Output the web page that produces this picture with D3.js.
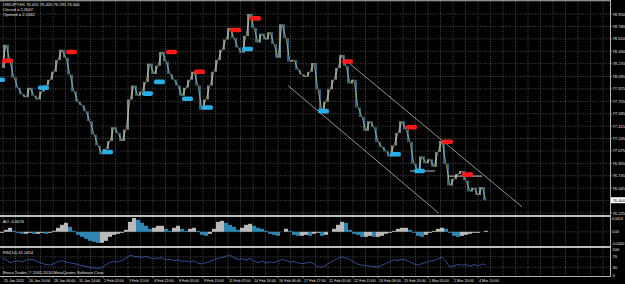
<!DOCTYPE html>
<html><head><meta charset="utf-8">
<script src="https://cdn.jsdelivr.net/npm/d3@7"></script>
<style>
html,body{margin:0;padding:0;background:#000;}
svg{display:block;}
text{font-family:"Liberation Sans",Arial,sans-serif;fill:#e4e4e4;font-size:4.1px;}
</style></head><body>
<svg width="625" height="284"></svg>
<script>
// time axis labels
var timeLabels = ["25 Jan 2011","26 Jan 10:00","28 Jan 06:00","31 Jan 14:00","2 Feb 02:00","3 Feb 12:00",
  "4 Feb 22:00","8 Feb 05:00","9 Feb 15:00","11 Feb 07:00","14 Feb 16:00","16 Feb 06:00","17 Feb 17:00",
  "21 Feb 05:00","22 Feb 11:00","24 Feb 09:00","25 Feb 20:00","1 Mar 05:00","2 Mar 20:00","4 Mar 10:00"];
var priceTicks = [78.950,78.780,78.610,78.440,78.270,78.095,77.925,77.755,77.585,77.415,77.245,77.075,76.905,76.735,76.565,76.395,76.225];
var lastPrice = 76.400;

// closes, one every few hours
var closes = [
  78.21,78.53,78.30,78.08,77.94,77.85,77.81,77.94,77.83,77.78,
  77.89,77.97,78.05,78.16,78.32,78.46,78.35,78.12,77.89,77.75,
  77.70,77.62,77.48,77.30,77.15,77.03,77.10,77.21,77.40,77.32,
  77.21,77.37,77.78,77.97,77.83,77.89,78.02,78.27,78.13,78.24,
  78.43,78.30,78.13,78.05,77.97,77.83,77.94,78.05,78.16,77.97,
  77.64,77.78,77.97,78.16,78.32,78.46,78.60,78.76,78.62,78.49,
  78.42,78.65,78.95,78.76,78.56,78.68,78.60,78.70,78.54,78.35,
  78.81,78.62,78.30,78.32,78.19,78.12,78.09,78.16,78.28,77.92,
  77.62,77.75,77.92,78.05,78.21,78.39,78.24,78.00,78.05,77.67,
  77.54,77.35,77.48,77.40,77.20,77.13,77.07,77.00,77.15,77.32,
  77.48,77.37,77.20,76.90,76.79,77.00,76.91,76.96,76.86,77.06,
  77.21,76.90,76.60,76.69,76.76,76.80,76.67,76.52,76.57,76.47,
  76.58,76.40];

// resistance (red) and support (blue) labels: bar index, price
var redIdx = [0,16,41,48,57,62,85,101,110,115];
var redPrice = [78.31,78.43,78.43,78.16,78.73,78.89,78.30,77.40,77.20,76.75];
var blueIdx = [-2,9,25,35,38,45,50,60,79,97,103];
var bluePrice = [78.05,77.94,77.06,77.86,78.02,77.79,77.67,78.47,77.62,77.03,76.80];

// channel lines and short level lines
var channelUpper = [[86.25,78.30],[130,76.31]];
var channelLower = [[71.5,77.97],[109.25,76.22]];
var levelFrom = [102,111.5], levelTo = [108.25,120], levelPrice = [76.80,76.73];

// AO histogram, in 1e-4
var aoVals = [
  -30,60,120,30,-30,-60,-60,-30,-60,-60,
  -30,-60,-30,30,120,210,270,150,30,-90,
  -150,-210,-270,-300,-330,-330,-270,-150,-90,-60,
  -30,60,300,414,360,270,180,90,120,180,
  180,90,30,120,180,90,30,90,120,30,
  -90,-120,-60,90,300,330,270,210,150,60,
  120,210,240,180,120,90,30,-60,-90,-120,
  0,90,30,-90,-120,-120,-90,-120,-60,-30,
  -120,-90,0,90,210,300,270,60,-60,-90,
  -150,-150,-120,-150,-150,-120,-60,-30,30,90,
  120,120,60,-30,-120,-150,-90,-30,30,90,
  120,90,-30,-120,-150,-120,-90,-60,-30,-30,
  0,30];

var rsiVals = [
  64,60,47,52,55,50,57,60,58,50,
  45,40,38,44,52,55,50,46,44,40,
  36,33,30,27,26,28,40,48,52,50,
  56,64,76,72,70,68,72,66,62,65,
  66,58,60,56,58,52,54,50,54,46,
  42,48,52,58,64,68,72,77,66,60,
  62,58,64,52,48,54,46,50,48,54,
  60,56,50,52,46,44,46,50,42,32,
  30,38,48,56,64,70,66,60,50,42,
  38,36,34,32,31,38,44,52,58,56,
  60,57,50,42,38,44,48,54,56,62,
  68,52,30,36,40,38,40,34,40,36,
  42,41];

var svg = d3.select("svg");
var right = 610;

var x = d3.scaleLinear().domain([0, closes.length-1]).range([2, 486]);
var xt = d3.scalePoint().domain(timeLabels).range([3, 3+25*(timeLabels.length-1)]);
var y = d3.scaleLinear().domain([76.225, 78.95]).range([213, 14]);
var yao = d3.scaleLinear().domain([-440, 414]).range([246.5, 218]);
var yrsi = d3.scaleLinear().domain([0, 100]).range([275, 249]);

svg.append("rect").attr("width",625).attr("height",284).attr("fill","#000");

// grid
var grid = svg.append("g").attr("stroke","#5e5e5e").attr("stroke-width",0.7).attr("stroke-dasharray","1.2,1.3");
var panels = [[1,215],[217,246],[248,276]];
var vx = d3.range(0, 49).map(function(k){ return xt.range()[0] + 12.5*k; });
panels.forEach(function(p){
  grid.selectAll(null).data(vx).enter().append("line")
    .attr("x1",function(d){return d;}).attr("x2",function(d){return d;})
    .attr("y1",p[0]).attr("y2",p[1]);
});
grid.selectAll(null).data(priceTicks).enter().append("line")
  .attr("x1",0).attr("x2",right).attr("y1",function(d){return y(d);}).attr("y2",function(d){return y(d);});
grid.append("line").attr("x1",0).attr("x2",right).attr("y1",yao(0)).attr("y2",yao(0));
[70,30].forEach(function(v){
  grid.append("line").attr("x1",0).attr("x2",right).attr("y1",yrsi(v)).attr("y2",yrsi(v));
});

// main clip
svg.append("clipPath").attr("id","mainclip").append("rect").attr("x",0).attr("y",1).attr("width",right).attr("height",214);
var main = svg.append("g").attr("clip-path","url(#mainclip)");

// channel
[channelUpper, channelLower].forEach(function(c){
  main.append("line").attr("x1",x(c[0][0])).attr("y1",y(c[0][1]))
    .attr("x2",x(c[1][0])).attr("y2",y(c[1][1]))
    .attr("stroke","#cfcfcf").attr("stroke-width",0.7);
});

// bars (open = previous close)
main.selectAll(null).data(closes.slice(1)).enter().append("line")
  .attr("x1",function(d,i){return x(i+0.5);}).attr("x2",function(d,i){return x(i+0.5);})
  .attr("y1",function(d,i){return y(closes[i]);})
  .attr("y2",function(d){return y(d);})
  .attr("stroke",function(d,i){return d < closes[i] ? "#3786b3" : "#9fb4c0";})
  .attr("stroke-width",1.5);

// level lines
main.selectAll(null).data(levelPrice).enter().append("line")
  .attr("x1",function(d,i){return x(levelFrom[i]);}).attr("x2",function(d,i){return x(levelTo[i]);})
  .attr("y1",function(d){return y(d);}).attr("y2",function(d){return y(d);})
  .attr("stroke","#e8e8e8").attr("stroke-width",0.8);

// close line
main.append("path").datum(closes)
  .attr("d", d3.line().x(function(d,i){return x(i);}).y(function(d){return y(d);}))
  .attr("fill","none").attr("stroke","#dcdc94").attr("stroke-width",0.6);

// markers
main.selectAll(null).data(redPrice).enter().append("rect")
  .attr("x",function(d,i){return x(redIdx[i]);}).attr("y",function(d){return y(d)-2.3;})
  .attr("width",11).attr("height",4.6).attr("rx",1.8).attr("fill","#ff1a1a");
main.selectAll(null).data(bluePrice).enter().append("rect")
  .attr("x",function(d,i){return x(blueIdx[i]);}).attr("y",function(d){return y(d)-2.3;})
  .attr("width",11).attr("height",4.6).attr("rx",1.8).attr("fill","#27aee8");

// AO histogram
svg.selectAll(null).data(aoVals).enter().append("rect")
  .attr("x",function(d,i){return x(i)-2;}).attr("width",4)
  .attr("y",function(d){return Math.min(yao(d), yao(0));})
  .attr("height",function(d){return Math.abs(yao(d)-yao(0));})
  .attr("fill",function(d,i){return i>0 && d < aoVals[i-1] ? "#2f86b0" : "#b9b9b9";});

// RSI
svg.append("path").datum(rsiVals)
  .attr("d", d3.line().x(function(d,i){return x(i);}).y(function(d){return yrsi(d);}))
  .attr("fill","none").attr("stroke","#4468cc").attr("stroke-width",0.7);

// frames
svg.append("rect").attr("x",0).attr("y",0).attr("width",right).attr("height",1.3).attr("fill","#8c8c8c");
svg.append("rect").attr("x",0).attr("y",215).attr("width",right).attr("height",2).attr("fill","#bdbdbd");
svg.append("rect").attr("x",0).attr("y",246).attr("width",right).attr("height",2).attr("fill","#bdbdbd");
svg.append("line").attr("x1",0).attr("x2",right+0.5).attr("y1",276.5).attr("y2",276.5).attr("stroke","#e0e0e0").attr("stroke-width",0.8);
svg.append("line").attr("x1",right+0.5).attr("x2",right+0.5).attr("y1",0).attr("y2",276.5).attr("stroke","#e0e0e0").attr("stroke-width",0.8);

// price axis
var pa = svg.append("g");
pa.selectAll(null).data(priceTicks.filter(function(d){return d !== 76.395;})).enter().append("text")
  .attr("x",612.5).attr("y",function(d){return y(d)+1.5;}).text(function(d){return d.toFixed(3);});
pa.selectAll(null).data(priceTicks).enter().append("line")
  .attr("x1",right).attr("x2",right+2).attr("y1",function(d){return y(d);}).attr("y2",function(d){return y(d);})
  .attr("stroke","#e0e0e0").attr("stroke-width",0.5);
pa.append("rect").attr("x",611).attr("y",y(lastPrice)-3).attr("width",14).attr("height",6).attr("fill","#fff");
pa.append("text").attr("x",612.5).attr("y",y(lastPrice)+1.5).style("fill","#000").text(lastPrice.toFixed(3));

// sub window labels
var aoLabels = [[414,"0.0414",1.5],[0,"0.00",1.5],[-440,"-0.0440",-2]];
pa.selectAll(null).data(aoLabels).enter().append("text")
  .attr("x",612).attr("y",function(d){return yao(d[0])+d[2];}).style("font-size","3.6px").text(function(d){return d[1];});
var rsiLabels = [100,70,30,0];
pa.selectAll(null).data(rsiLabels).enter().append("text")
  .attr("x",612.5).attr("y",function(d){return yrsi(d)+1.5;}).text(function(d){return d;});

// time axis
var ta = svg.append("g");
ta.selectAll(null).data(timeLabels).enter().append("line")
  .attr("x1",function(d){return xt(d);}).attr("x2",function(d){return xt(d);})
  .attr("y1",276.5).attr("y2",278.5).attr("stroke","#e0e0e0").attr("stroke-width",0.5);
ta.selectAll(null).data(timeLabels).enter().append("text")
  .attr("x",function(d){return xt(d)+1;}).attr("y",282).style("font-size","3.7px").text(function(d){return d;});

// captions
svg.append("text").attr("x",3).attr("y",5.5).text("USDJPY,H1  76.420 76.420 76.295 76.400");
svg.append("text").attr("x",3).attr("y",10.5).text("Closed = 2.2647");
svg.append("text").attr("x",3).attr("y",15.5).text("Opened = 2.2442");
svg.append("text").attr("x",3).attr("y",223).text("AO -0.0076");
svg.append("text").attr("x",3).attr("y",253.5).text("RSI(14) 41.1654");
svg.append("text").attr("x",3).attr("y",274).text("Broco Trader, © 2001-2010 MetaQuotes Software Corp.");
</script>
</body></html>
